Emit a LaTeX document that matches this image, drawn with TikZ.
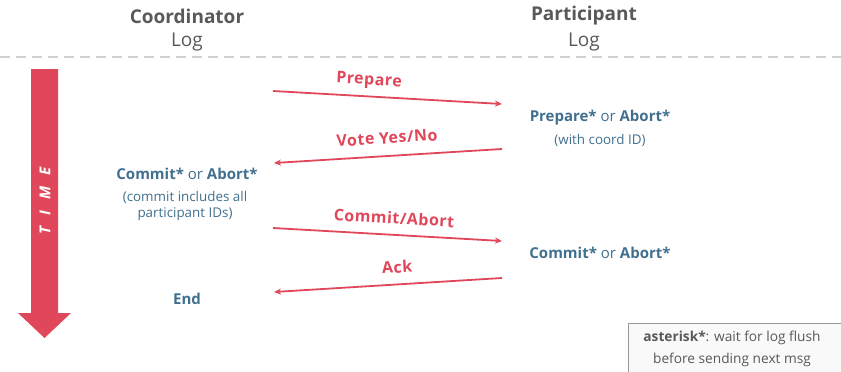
\documentclass[tikz,border=0pt]{standalone}
\usepackage{fontspec}
\setmainfont{Open Sans}
\usetikzlibrary{arrows.meta}
\definecolor{tred}{HTML}{E0475A}
\definecolor{tblue}{HTML}{41708F}
\definecolor{tgray}{HTML}{595959}
\definecolor{dgray}{HTML}{D0D0D0}
\tikzset{
  title/.style={text=tgray, font=\bfseries\fontsize{19}{22}\selectfont, inner sep=0pt},
  sub/.style={text=tgray, font=\fontsize{19}{22}\selectfont, inner sep=0pt},
  state/.style={text=tblue, font=\fontsize{15}{17}\selectfont, inner sep=0pt},
  note/.style={text=tblue, font=\fontsize{13.4}{16}\selectfont, inner sep=0pt, align=center},
  msg/.style={draw=tred, line width=1.8pt, -{Stealth[length=7pt,width=6pt]}},
  msglabel/.style={text=tred, font=\bfseries\fontsize{16}{18}\selectfont\addfontfeatures{LetterSpace=3}, inner sep=0pt},
}
\begin{document}
\begin{tikzpicture}[x=1pt,y=-1pt]
\useasboundingbox (0,0) rectangle (841,372);
% headers
\node[title] (ct) at (187,16) {Coordinator};
\node[sub] (cl) at (187,42) {Log};
\node[title] (pt) at (584,16) {Participant};
\node[sub] (pl) at (584,42) {Log};
\coordinate (dl) at (0,57);
\coordinate (dr) at (841,57);
\draw[dgray, line width=1.6pt, dash pattern=on 10pt off 6pt] (dl) -- (dr);
% time arrow
\fill[tred] (31,69) -- (58,69) -- (58,313) -- (71,313) -- (44.5,338) -- (18,313) -- (31,313) -- cycle;
\node[rotate=90, text=white, font=\bfseries\itshape\fontsize{15}{17}\selectfont\addfontfeatures{LetterSpace=75}, inner sep=0pt] (time) at (45,201) {TIME};
% coordinates of messages
\coordinate (a1) at (273,91);  \coordinate (b1) at (502,104);
\coordinate (a2) at (502,149); \coordinate (b2) at (274,163);
\coordinate (a3) at (273,228); \coordinate (b3) at (502,241);
\coordinate (a4) at (502,278); \coordinate (b4) at (274,292);
\draw[msg] (a1) -- (b1);
\draw[msg] (a2) -- (b2);
\draw[msg] (a3) -- (b3);
\draw[msg] (a4) -- (b4);
\node[msglabel, rotate=-3.25] (l1) at (369,81) {Prepare};
\node[msglabel, rotate=3.5] (l2) at (387,138) {Vote Yes/No};
\node[msglabel, rotate=-3.25] (l3) at (394,218) {Commit/Abort};
\node[msglabel, rotate=3.5] (l4) at (397,267) {Ack};
% states
\node[state] (s1) at (600,118) {\textbf{Prepare*} or \textbf{Abort*}};
\node[note] (n1) at (600,140) {(with coord ID)};
\node[state] (s2) at (187,174) {\textbf{Commit*} or \textbf{Abort*}};
\node[note] (n2) at (185,206) {(commit includes all\\participant IDs)};
\node[state] (s3) at (600,253) {\textbf{Commit*} or \textbf{Abort*}};
\node[state] (s4) at (187,299) {\textbf{End}};
% legend box
\draw[draw=gray!80, fill=gray!5, line width=1pt] (628,323) rectangle (850,385);
\node[text=tgray, font=\fontsize{13.7}{22}\selectfont, align=center, inner sep=0pt] (lg) at (732,349) {\textbf{asterisk*}: wait for log flush\\before sending next msg};
\end{tikzpicture}
\end{document}
